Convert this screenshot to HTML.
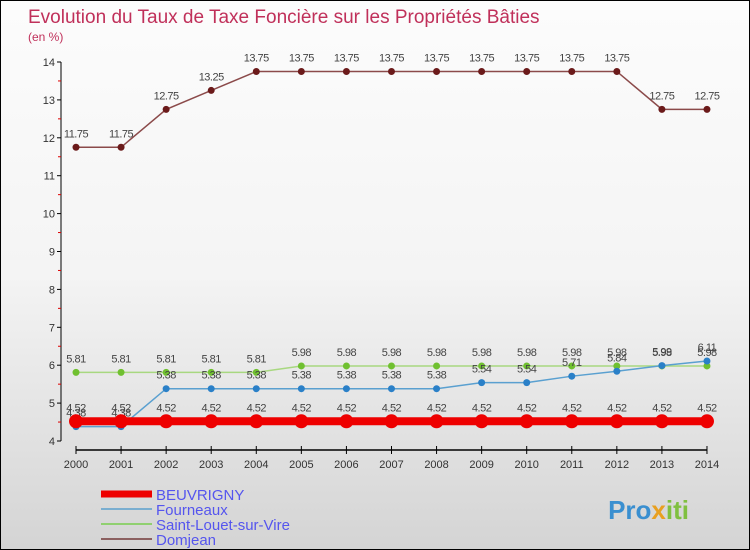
<!DOCTYPE html>
<html><head><meta charset="utf-8"><style>
body{margin:0}
#c{width:750px;height:550px;position:relative;box-sizing:border-box;border:1px solid #000;background:linear-gradient(#fcfcfc,#f4f4f4 50%,#d4d4d4);font-family:"Liberation Sans",sans-serif;overflow:hidden}
</style></head><body>
<div id="c">
<svg id="s" width="750" height="550" style="position:absolute;left:0;top:0">
<text x="27" y="22" font-size="19" fill="#c0305a">Evolution du Taux de Taxe Foncière sur les Propriétés Bâties</text>
<text x="27" y="40" font-size="12" fill="#c0305a">(en %)</text>
<g id="g"></g>
<text x="688" y="518" font-size="26" font-weight="bold" fill="#3a8fd0" text-anchor="end">Pro<tspan fill="#e8a020">x</tspan><tspan fill="#80c040">iti</tspan></text>
</svg>
</div>
<script>
const years=[2000,2001,2002,2003,2004,2005,2006,2007,2008,2009,2010,2011,2012,2013,2014];
const beuvrigny=[4.52,4.52,4.52,4.52,4.52,4.52,4.52,4.52,4.52,4.52,4.52,4.52,4.52,4.52,4.52];
const fourneaux=[4.38,4.38,5.38,5.38,5.38,5.38,5.38,5.38,5.38,5.54,5.54,5.71,5.84,5.99,6.11];
const saintLouet=[5.81,5.81,5.81,5.81,5.81,5.98,5.98,5.98,5.98,5.98,5.98,5.98,5.98,5.98,5.98];
const domjean=[11.75,11.75,12.75,13.25,13.75,13.75,13.75,13.75,13.75,13.75,13.75,13.75,13.75,12.75,12.75];
const yTicks=[4,5,6,7,8,9,10,11,12,13,14];
const NS="http://www.w3.org/2000/svg",g=document.getElementById('g');
const X=i=>75+i*45.07, Y=v=>440-(v-4)*37.9;
function el(t,a,txt){const e=document.createElementNS(NS,t);for(const k in a)e.setAttribute(k,a[k]);if(txt!==undefined)e.textContent=txt;g.appendChild(e);return e;}
let e=el('line',{x1:60,y1:Y(14),x2:60,y2:Y(4),stroke:'#000'});


e=el('line',{x1:X(0),y1:449,x2:X(14),y2:449,stroke:'#000',"stroke-width":1.5});


yTicks.forEach(v=>{
 el('line',{x1:56,x2:60,y1:Y(v),y2:Y(v),stroke:'#000'});
 if(v<14) el('line',{x1:57,x2:60,y1:Y(v+0.5),y2:Y(v+0.5),stroke:'#d00'});
 const t=el('text',{x:54,y:Y(v)+4,"font-size":11,fill:'#333',"text-anchor":'end'},v);
 
 
});
years.forEach((yr,i)=>{
 el('line',{x1:X(i),x2:X(i),y1:445,y2:453,stroke:'#000'});
 const t=el('text',{x:X(i),y:467,"font-size":11,fill:'#333',"text-anchor":'middle'},yr);
 
 
});
function series(vals,color,dot,lw,r,name){
 const p=el('polyline',{points:vals.map((v,i)=>X(i)+','+Y(v)).join(' '),fill:'none',stroke:color,"stroke-width":lw});
 
 
 vals.forEach((v,i)=>{
  const c=el('circle',{cx:X(i),cy:Y(v),r:r,fill:dot});
  
  
  const t=el('text',{x:X(i),y:Y(v)-10,"font-size":11,fill:'#444',"text-anchor":'middle',"letter-spacing":'-0.5'},v.toFixed(2).replace(/0$/,'').replace(/\.$/,''));
  
  
 });
}
series(domjean,'#8b4a4a','#6b1a1a',1.5,3.5,'domjean');
series(saintLouet,'#a8d880','#70c030',1.5,3.5,'saint-louet');
series(fourneaux,'#5aa0d0','#2a80c8',1.5,3.5,'fourneaux');
series(beuvrigny,'#ee0000','#ee0000',8,7,'beuvrigny');
const leg=[['BEUVRIGNY','#ee0000',7],['Fourneaux','#7aaed0',2],['Saint-Louet-sur-Vire','#90d070',2],['Domjean','#8b6060',2]];
leg.forEach((l,i)=>{
 const y=493+i*15;
 el('line',{x1:100,x2:151,y1:y,y2:y,stroke:l[1],"stroke-width":l[2]});
 const t=el('text',{x:155,y:y+6,"font-size":15,fill:'#5555ee'},l[0]);
 
 
});
</script>
</body></html>
